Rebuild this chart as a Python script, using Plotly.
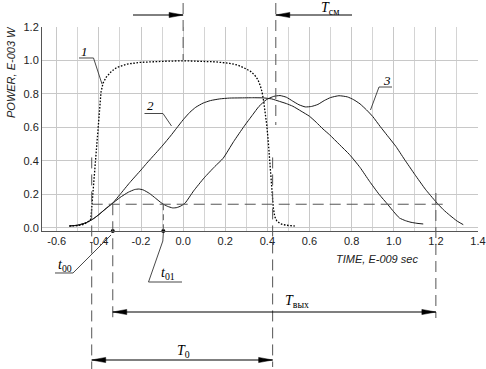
import plotly.graph_objects as go

# ---------------- data ----------------
# curve 1 (dotted)
x1 = [-0.54, -0.50, -0.47, -0.45, -0.44, -0.437, -0.43, -0.42, -0.41, -0.40, -0.39, -0.38,
      -0.365, -0.34, -0.315, -0.29, -0.265, -0.21, -0.15, -0.09, 0.0, 0.08, 0.15, 0.22,
      0.26, 0.295, 0.32, 0.34, 0.355, 0.366, 0.375, 0.382, 0.39, 0.397, 0.404, 0.41,
      0.416, 0.422, 0.428, 0.435, 0.445, 0.46, 0.475, 0.50, 0.53]
y1 = [0.010, 0.012, 0.020, 0.035, 0.045, 0.070, 0.170, 0.330, 0.490, 0.650, 0.810, 0.865,
      0.900, 0.935, 0.958, 0.970, 0.978, 0.988, 0.993, 0.995, 0.998, 0.997, 0.992, 0.983,
      0.972, 0.952, 0.935, 0.912, 0.885, 0.850, 0.810, 0.760, 0.690, 0.614, 0.520, 0.415,
      0.310, 0.215, 0.120, 0.066, 0.040, 0.025, 0.018, 0.013, 0.010]

# curve 2
x2 = [-0.54, -0.50, -0.46, -0.43, -0.41, -0.38, -0.35, -0.332, -0.30, -0.253, -0.20,
      -0.173, -0.13, -0.095, -0.06, -0.031, 0.0, 0.032, 0.06, 0.095, 0.13, 0.174, 0.22,
      0.27, 0.33, 0.38, 0.42, 0.458, 0.49, 0.521, 0.56, 0.60, 0.632, 0.664, 0.695, 0.743,
      0.79, 0.84, 0.885, 0.93, 0.972, 1.0, 1.027, 1.055, 1.082, 1.11, 1.14]
y2 = [0.010, 0.015, 0.030, 0.050, 0.068, 0.100, 0.132, 0.150, 0.198, 0.270, 0.345,
      0.385, 0.445, 0.495, 0.548, 0.595, 0.645, 0.690, 0.720, 0.745, 0.760, 0.770, 0.775,
      0.776, 0.777, 0.776, 0.770, 0.755, 0.742, 0.726, 0.697, 0.666, 0.630, 0.590, 0.556,
      0.496, 0.437, 0.360, 0.277, 0.200, 0.138, 0.095, 0.058, 0.042, 0.032, 0.026, 0.022]

# curve 3
x3 = [-0.54, -0.50, -0.46, -0.43, -0.40, -0.37, -0.34, -0.30, -0.26, -0.23, -0.21, -0.19,
      -0.16, -0.13, -0.10, -0.075, -0.05, -0.03, -0.01, 0.01, 0.05, 0.10, 0.15, 0.19, 0.24,
      0.29, 0.33, 0.36, 0.395, 0.43, 0.46, 0.49, 0.52, 0.55, 0.58, 0.61, 0.64, 0.67, 0.70,
      0.74, 0.78, 0.81, 0.84, 0.87, 0.90, 0.935, 0.97, 1.01, 1.05, 1.10, 1.15, 1.20, 1.235,
      1.265, 1.30, 1.33]
y3 = [0.010, 0.015, 0.030, 0.050, 0.078, 0.110, 0.140, 0.180, 0.212, 0.228, 0.231, 0.226,
      0.205, 0.175, 0.145, 0.128, 0.118, 0.120, 0.130, 0.148, 0.220, 0.298, 0.365, 0.415,
      0.515, 0.607, 0.675, 0.725, 0.765, 0.785, 0.790, 0.780, 0.757, 0.735, 0.722, 0.725,
      0.737, 0.760, 0.778, 0.789, 0.782, 0.765, 0.740, 0.705, 0.665, 0.606, 0.550, 0.486,
      0.410, 0.318, 0.230, 0.155, 0.108, 0.075, 0.040, 0.018]

x_ticks = [-0.6, -0.4, -0.2, 0.0, 0.2, 0.4, 0.6, 0.8, 1.0, 1.2, 1.4]
x_tick_labels = ["-0.6", "-0.4", "-0.2", "0.0", "0.2", "0.4", "0.6", "0.8", "1.0", "1.2", "1.4"]
y_ticks = [0.0, 0.2, 0.4, 0.6, 0.8, 1.0, 1.2]
y_tick_labels = ["0.0", "0.2", "0.4", "0.6", "0.8", "1.0", "1.2"]

curve_labels = ["1", "2", "3"]

# characteristic levels / times
threshold = 0.14
t_start = -0.434     # T0 start
t00 = -0.334
t01 = -0.094
t0_end = 0.425
tcm_start = 0.0
tcm_end = 0.44
tout_end = 1.2

# ---------------- geometry ----------------
W, H = 486, 369
ML, MR, MT, MB = 42, 8, 27, 138
XR = [-0.67, 1.4]
YR = [-0.02, 1.2]
PW = W - ML - MR
PH = H - MT - MB


def px_x(x):
    return ML + (x - XR[0]) / (XR[1] - XR[0]) * PW


def px_y(y):
    return MT + (YR[1] - y) / (YR[1] - YR[0]) * PH


def pap_x(p):
    return (p - ML) / PW


def pap_y(p):
    return (H - MB - p) / PH


shapes = []
DASH = "11px,6px"
DCOL = "#555555"


def seg(xa, ya, xb, yb, color="#222222", width=1.0, dash=None):
    line = dict(color=color, width=width)
    if dash:
        line["dash"] = dash
    shapes.append(dict(type="line", xref="paper", yref="paper",
                       x0=pap_x(xa), y0=pap_y(ya), x1=pap_x(xb), y1=pap_y(yb),
                       line=line, layer="above"))


def poly(points, color="#333333", width=0.9):
    d = "M " + " L ".join(f"{pap_x(a):.5f},{pap_y(b):.5f}" for a, b in points)
    shapes.append(dict(type="path", xref="paper", yref="paper", path=d,
                       line=dict(color=color, width=width), layer="above"))


def head(xtip, y, direction):
    ln, hw = 14, 2.6
    xb = xtip - direction * ln
    d = (f"M {pap_x(xtip):.5f},{pap_y(y):.5f} L {pap_x(xb):.5f},{pap_y(y - hw):.5f} "
         f"L {pap_x(xb):.5f},{pap_y(y + hw):.5f} Z")
    shapes.append(dict(type="path", xref="paper", yref="paper", path=d,
                       fillcolor="black", line=dict(color="black", width=0.5), layer="above"))


# threshold dashed line
seg(px_x(t_start), px_y(threshold), px_x(1.244), px_y(threshold), DCOL, 1, DASH)
# vertical extension lines
seg(px_x(t_start), px_y(0.42), px_x(t_start), 369, DCOL, 1, DASH)
seg(px_x(t00), px_y(threshold), px_x(t00), 320, DCOL, 1, DASH)
seg(px_x(t01), px_y(threshold), px_x(t01), px_y(-0.02), DCOL, 1, "6px,4px")
seg(px_x(tcm_start), 3, px_x(tcm_start), 60, DCOL, 1, DASH)
seg(px_x(tcm_end), 3, px_x(tcm_end), 125, DCOL, 1, DASH)
seg(px_x(t0_end), px_y(0.42), px_x(t0_end), 367, DCOL, 1, DASH)
seg(px_x(tout_end), 193, px_x(tout_end), 318, DCOL, 1, DASH)

# T_cm dimension (arrows from outside)
Y_CM = 15
seg(133, Y_CM, px_x(tcm_start), Y_CM, "black", 1)
head(px_x(tcm_start), Y_CM, +1)
seg(352, Y_CM, px_x(tcm_end), Y_CM, "black", 1)
head(px_x(tcm_end), Y_CM, -1)

# T_out dimension
Y_OUT = 312
seg(px_x(t00), Y_OUT, px_x(tout_end), Y_OUT, "black", 1.2)
head(px_x(t00), Y_OUT, -1)
head(px_x(tout_end), Y_OUT, +1)

# T0 dimension
Y_T0 = 360
seg(px_x(t_start), Y_T0, px_x(t0_end), Y_T0, "black", 1.2)
head(px_x(t_start), Y_T0, -1)
head(px_x(t0_end), Y_T0, +1)

# leaders for curve numbers
poly([(79, 58), (93.5, 58), (102, 84)])
poly([(144.5, 113.5), (163, 113.5), (171.5, 126)])
poly([(392, 87), (379, 87), (370.5, 110)])
# leaders for t00 / t01
poly([(111, 235), (73, 273), (55, 273)])
poly([(px_x(t01), 233), (px_x(t01) - 0.5, 241), (148.5, 282), (182, 282)])

annotations = []


def label(text, xp, yp, size=13, family="Liberation Serif", color="black", angle=0):
    annotations.append(dict(text=text, xref="paper", yref="paper", x=pap_x(xp), y=pap_y(yp),
                            xanchor="center", yanchor="middle", showarrow=False,
                            textangle=angle, font=dict(family=family, size=size, color=color)))


label("<i>" + curve_labels[0] + "</i>", 84.5, 51.5)
label("<i>" + curve_labels[1] + "</i>", 150.5, 106)
label("<i>" + curve_labels[2] + "</i>", 387, 80)
label("<i>T</i><sub>см</sub>", 330, 8, size=14)
label("<i>T</i><sub>вых</sub>", 297, 301, size=14)
label("<i>T</i><sub>0</sub>", 183, 351, size=14)
label("<i>t</i><sub>00</sub>", 65, 265, size=14)
label("<i>t</i><sub>01</sub>", 168, 273, size=14)
label("<i>TIME, E-009 sec</i>", 376.5, 258.5, size=11, family="Liberation Sans", color="#222222")
label("<i>POWER, E-003 W</i>", 10.5, 72.5, size=11, family="Liberation Sans",
      color="#222222", angle=-90)

fig = go.Figure()
fig.add_trace(go.Scatter(x=x2, y=y2, mode="lines",
                         line=dict(color="#1a1a1a", width=1.0, shape="spline", smoothing=0.5),
                         hoverinfo="skip"))
fig.add_trace(go.Scatter(x=x3, y=y3, mode="lines",
                         line=dict(color="#1a1a1a", width=1.0, shape="spline", smoothing=0.5),
                         hoverinfo="skip"))
fig.add_trace(go.Scatter(x=x1, y=y1, mode="lines",
                         line=dict(color="black", width=1.3, dash="1.6px,1.6px"),
                         hoverinfo="skip"))
fig.add_trace(go.Scatter(x=[t00, t01], y=[YR[0], YR[0]], mode="markers",
                         marker=dict(color="black", size=4), cliponaxis=False,
                         hoverinfo="skip"))

fig.update_layout(
    width=W, height=H,
    margin=dict(l=ML, r=MR, t=MT, b=MB, pad=0, autoexpand=False),
    paper_bgcolor="white", plot_bgcolor="white",
    showlegend=False,
    shapes=shapes,
    annotations=annotations,
    font=dict(family="Liberation Sans", size=11, color="#222222"),
    xaxis=dict(range=XR, tickvals=x_ticks, ticktext=x_tick_labels, automargin=False,
               showgrid=True, gridcolor="#c8c8c8", gridwidth=1,
               minor=dict(dtick=0.1, tick0=0, showgrid=True, gridcolor="#d4d4d4", gridwidth=1),
               showline=True, linecolor="#555555", linewidth=1,
               zeroline=False, ticks="", fixedrange=True,
               tickfont=dict(family="Liberation Sans", size=11, color="#222222")),
    yaxis=dict(range=YR, tickvals=y_ticks, ticktext=y_tick_labels, automargin=False,
               showgrid=True, gridcolor="#c8c8c8", gridwidth=1,
               showline=True, linecolor="#555555", linewidth=1,
               zeroline=False, ticks="", fixedrange=True,
               tickfont=dict(family="Liberation Sans", size=11, color="#222222")),
)

fig.write_html("out.html", config=dict(displayModeBar=False),
               post_script="document.body.style.margin='0';document.body.style.overflow='hidden';")
